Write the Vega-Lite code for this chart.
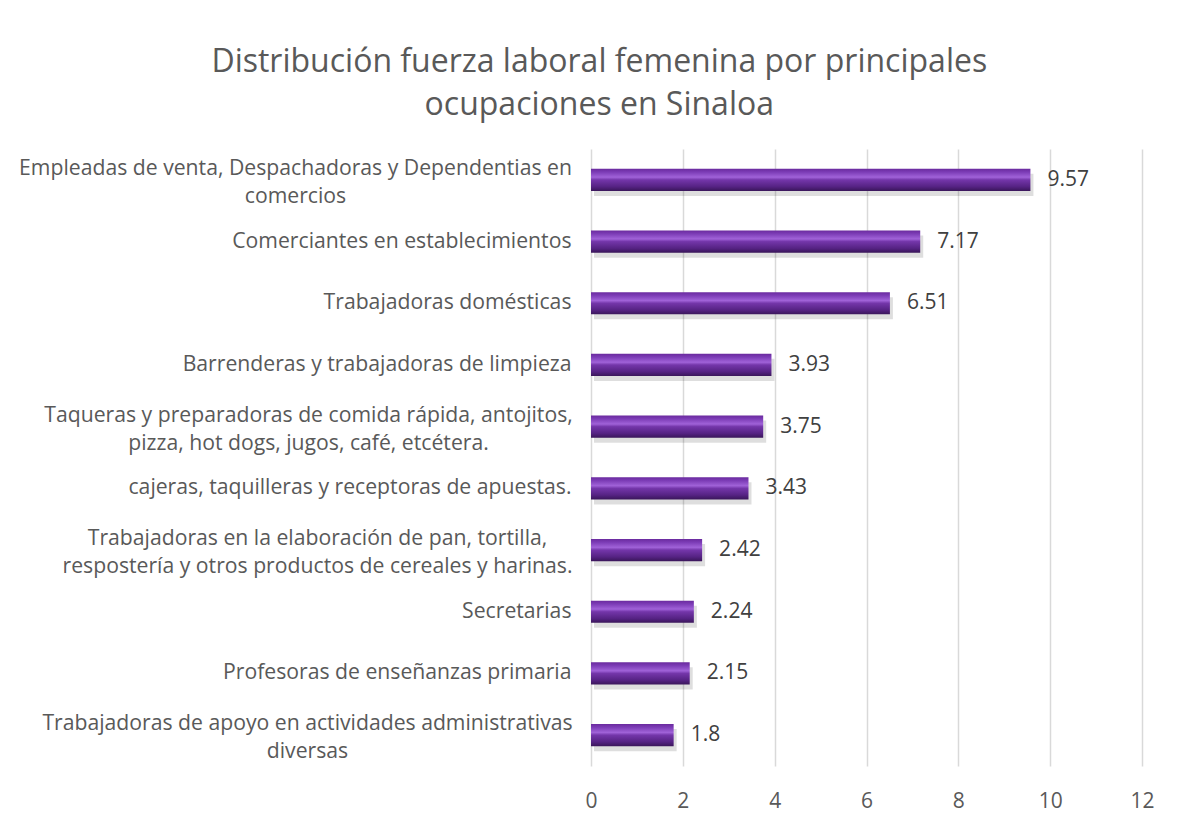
{
  "$schema": "https://vega.github.io/schema/vega-lite/v6.json",
  "autosize": "none",
  "width": 551,
  "height": 617,
  "padding": {"left": 591, "top": 149, "right": 35, "bottom": 55},
  "background": "white",
  "title": {
    "text": ["Distribución fuerza laboral femenina por principales", "ocupaciones en Sinaloa"],
    "font": "Open Sans",
    "fontSize": 32,
    "fontWeight": "normal",
    "color": "#595959",
    "lineHeight": 43,
    "anchor": "middle",
    "frame": "bounds",
    "offset": 27,
    "dx": 13
  },
  "data": {
    "values": [
      {"ocupacion": "Empleadas de venta, Despachadoras y Dependentias en\ncomercios", "valor": 9.57},
      {"ocupacion": "Comerciantes en establecimientos", "valor": 7.17},
      {"ocupacion": "Trabajadoras domésticas", "valor": 6.51},
      {"ocupacion": "Barrenderas y trabajadoras de limpieza", "valor": 3.93},
      {"ocupacion": "Taqueras y preparadoras de comida rápida, antojitos,\npizza, hot dogs, jugos, café, etcétera.", "valor": 3.75},
      {"ocupacion": "cajeras, taquilleras y receptoras de apuestas.", "valor": 3.43},
      {"ocupacion": "Trabajadoras en la elaboración de pan, tortilla,\nrespostería y otros productos de cereales y harinas.", "valor": 2.42},
      {"ocupacion": "Secretarias", "valor": 2.24},
      {"ocupacion": "Profesoras de enseñanzas primaria", "valor": 2.15},
      {"ocupacion": "Trabajadoras de apoyo en actividades administrativas\ndiversas", "valor": 1.8}
    ]
  },
  "encoding": {
    "y": {
      "field": "ocupacion",
      "type": "nominal",
      "sort": {"field": "valor", "order": "descending"},
      "scale": {"paddingInner": 0.64, "paddingOuter": 0.32},
      "axis": {
        "title": null,
        "ticks": false,
        "domain": false,
        "labelFont": "Open Sans",
        "labelFontSize": 21.2,
        "labelColor": "#595959",
        "labelLineHeight": 28,
        "labelLimit": 700,
        "labelExpr": "split(datum.value, '\\n')",
        "labelAlign": {"condition": {"test": "indexof(datum.value, '\\n') >= 0", "value": "center"}, "value": "right"},
        "labelOffset": {"condition": {"test": "indexof(datum.value, '\\n') >= 0", "value": -11}, "value": 0},
        "labelPadding": {
          "condition": [
            {"test": "indexof(datum.value, 'Empleadas') === 0", "value": 296},
            {"test": "indexof(datum.value, 'Taqueras') === 0", "value": 283},
            {"test": "indexof(datum.value, 'Trabajadoras en') === 0", "value": 274},
            {"test": "indexof(datum.value, 'Trabajadoras de apoyo') === 0", "value": 284}
          ],
          "value": 20
        }
      }
    },
    "x": {
      "field": "valor",
      "type": "quantitative",
      "scale": {"domain": [0, 12], "nice": false},
      "axis": {
        "title": null,
        "values": [0, 2, 4, 6, 8, 10, 12],
        "ticks": false,
        "domain": false,
        "grid": true,
        "gridColor": "#d9d9d9",
        "gridWidth": 1.5,
        "labelFlush": false,
        "labelPadding": 24,
        "labelFont": "Open Sans",
        "labelFontSize": 21,
        "labelColor": "#595959"
      }
    }
  },
  "layer": [
    {
      "mark": {"type": "bar", "color": "#000000", "opacity": 0.13, "yOffset": 5, "xOffset": 3}
    },
    {
      "mark": {
        "type": "bar",
        "color": {
          "gradient": "linear",
          "x1": 0, "y1": 0, "x2": 0, "y2": 1,
          "stops": [
            {"offset": 0, "color": "#6a2a9e"},
            {"offset": 0.15, "color": "#7c3cb6"},
            {"offset": 0.38, "color": "#a062d8"},
            {"offset": 0.5, "color": "#7436aa"},
            {"offset": 0.8, "color": "#562384"},
            {"offset": 1, "color": "#3a165a"}
          ]
        }
      }
    },
    {
      "mark": {"type": "text", "align": "left", "baseline": "middle", "dx": 17, "font": "Open Sans", "fontSize": 21, "color": "#404040"},
      "encoding": {"text": {"field": "valor", "type": "quantitative"}}
    }
  ],
  "config": {"view": {"stroke": null}}
}
